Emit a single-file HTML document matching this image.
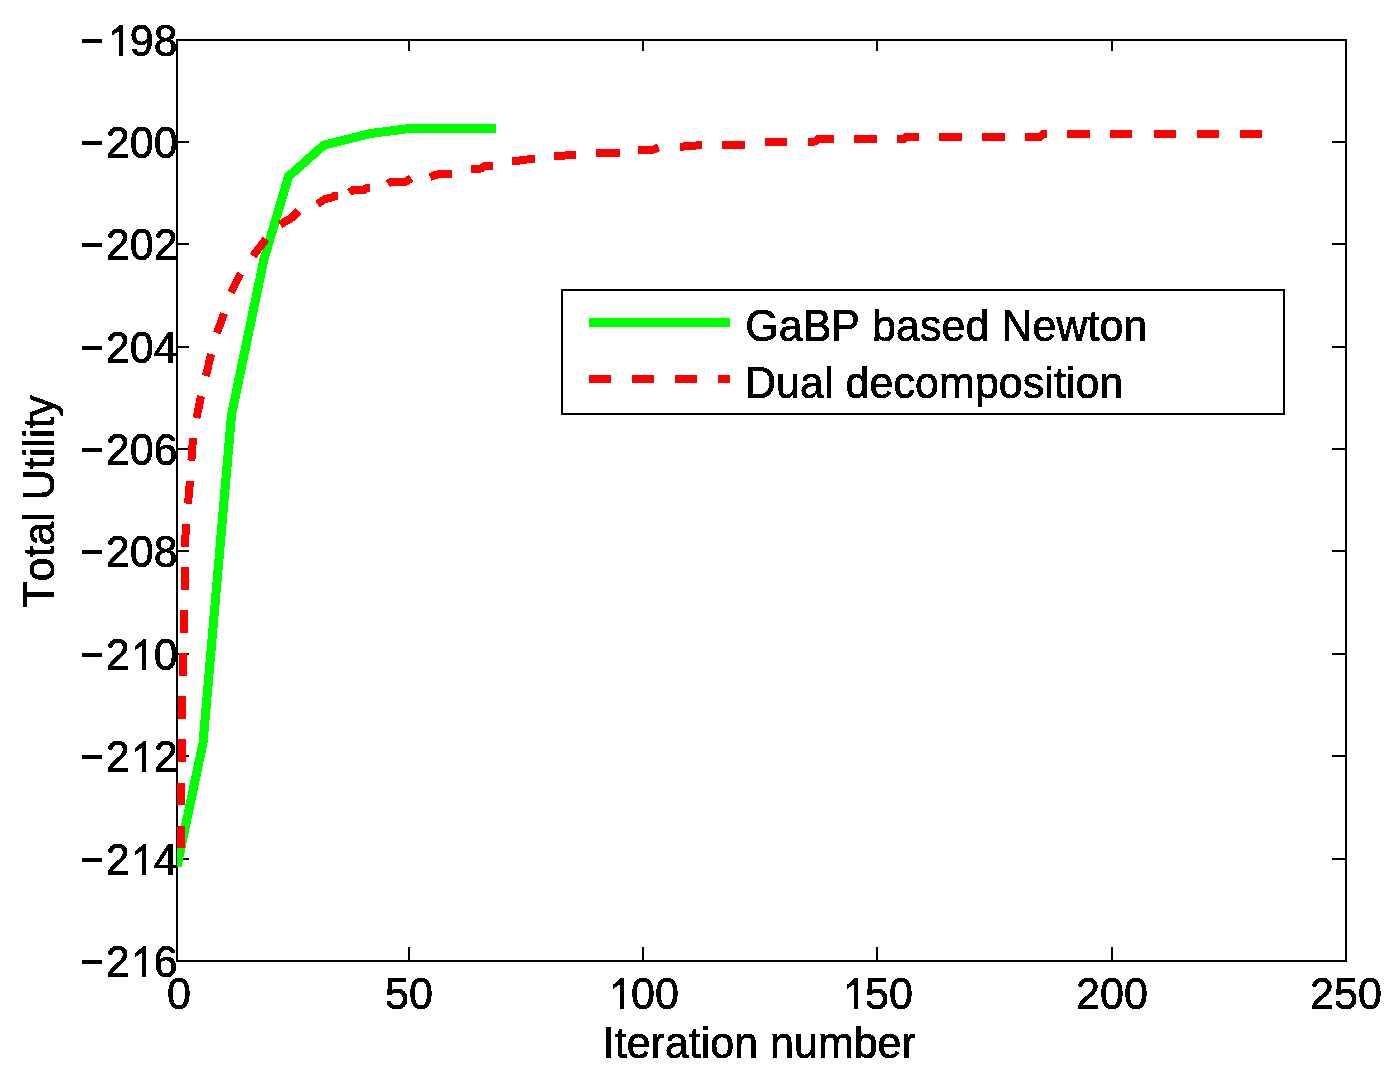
<!DOCTYPE html>
<html><head><meta charset="utf-8"><style>
html,body{margin:0;padding:0;background:#fff;}
svg{display:block;}
polyline,rect,path{shape-rendering:crispEdges;}
text{font-family:"Liberation Sans", sans-serif;font-size:43px;fill:#000;stroke:#000;stroke-width:0.7px;font-kerning:none;}
</style></head><body>
<svg width="1396" height="1079" viewBox="0 0 1396 1079">
<defs><clipPath id="clip"><rect x="177" y="41" width="1168" height="919"/></clipPath><filter id="alias" x="0" y="0" width="100%" height="100%" filterUnits="userSpaceOnUse"><feComponentTransfer><feFuncA type="discrete" tableValues="0 1"/></feComponentTransfer></filter></defs>
<rect width="1396" height="1079" fill="#fff"/>
<rect x="177" y="40" width="1169" height="921" fill="none" stroke="#000" stroke-width="2"/>
<rect x="408" y="947" width="2" height="13" fill="#000"/>
<rect x="408" y="41" width="2" height="10" fill="#000"/>
<rect x="642" y="947" width="2" height="13" fill="#000"/>
<rect x="642" y="41" width="2" height="10" fill="#000"/>
<rect x="876" y="947" width="2" height="13" fill="#000"/>
<rect x="876" y="41" width="2" height="10" fill="#000"/>
<rect x="1111" y="947" width="2" height="13" fill="#000"/>
<rect x="1111" y="41" width="2" height="10" fill="#000"/>
<rect x="178" y="141" width="11" height="2" fill="#000"/>
<rect x="1332" y="141" width="13" height="2" fill="#000"/>
<rect x="178" y="243" width="11" height="2" fill="#000"/>
<rect x="1332" y="243" width="13" height="2" fill="#000"/>
<rect x="178" y="346" width="11" height="2" fill="#000"/>
<rect x="1332" y="346" width="13" height="2" fill="#000"/>
<rect x="178" y="448" width="11" height="2" fill="#000"/>
<rect x="1332" y="448" width="13" height="2" fill="#000"/>
<rect x="178" y="550" width="11" height="2" fill="#000"/>
<rect x="1332" y="550" width="13" height="2" fill="#000"/>
<rect x="178" y="653" width="11" height="2" fill="#000"/>
<rect x="1332" y="653" width="13" height="2" fill="#000"/>
<rect x="178" y="755" width="11" height="2" fill="#000"/>
<rect x="1332" y="755" width="13" height="2" fill="#000"/>
<rect x="178" y="858" width="11" height="2" fill="#000"/>
<rect x="1332" y="858" width="13" height="2" fill="#000"/>
<g clip-path="url(#clip)">
<polyline fill="none" stroke="#00ff00" stroke-width="9" stroke-linejoin="miter" stroke-linecap="butt" points="177,866.5 203,743 231.5,415 264,259 288.5,176.5 323.7,145.2 370,133.6 409,128.5 496,128.5"/>
<polyline fill="none" stroke="#ff0000" stroke-width="8" stroke-linejoin="round" stroke-linecap="butt" points="181,848 181,826"/>
<polyline fill="none" stroke="#ff0000" stroke-width="8" stroke-linejoin="round" stroke-linecap="butt" points="181,805 181,783"/>
<polyline fill="none" stroke="#ff0000" stroke-width="8" stroke-linejoin="round" stroke-linecap="butt" points="181.5,762 181.5,739"/>
<polyline fill="none" stroke="#ff0000" stroke-width="8" stroke-linejoin="round" stroke-linecap="butt" points="182.4,719 182.4,696"/>
<polyline fill="none" stroke="#ff0000" stroke-width="8" stroke-linejoin="round" stroke-linecap="butt" points="183.1,675.6 183.1,653.1"/>
<polyline fill="none" stroke="#ff0000" stroke-width="8" stroke-linejoin="round" stroke-linecap="butt" points="184,632.8 184,610"/>
<polyline fill="none" stroke="#ff0000" stroke-width="8" stroke-linejoin="round" stroke-linecap="butt" points="184.5,589.8 184.5,567.2"/>
<polyline fill="none" stroke="#ff0000" stroke-width="8" stroke-linejoin="round" stroke-linecap="butt" points="185,546.8 186,523.9"/>
<polyline fill="none" stroke="#ff0000" stroke-width="8" stroke-linejoin="round" stroke-linecap="butt" points="188,503.7 190,481.1"/>
<polyline fill="none" stroke="#ff0000" stroke-width="8" stroke-linejoin="round" stroke-linecap="butt" points="191.4,460.7 193,438"/>
<polyline fill="none" stroke="#ff0000" stroke-width="8" stroke-linejoin="round" stroke-linecap="butt" points="196.5,418 201,396"/>
<polyline fill="none" stroke="#ff0000" stroke-width="8" stroke-linejoin="round" stroke-linecap="butt" points="206,376 211,354"/>
<polyline fill="none" stroke="#ff0000" stroke-width="8" stroke-linejoin="round" stroke-linecap="butt" points="217,333 224,313.5"/>
<polyline fill="none" stroke="#ff0000" stroke-width="8" stroke-linejoin="round" stroke-linecap="butt" points="231,292.5 240.5,273.5"/>
<polyline fill="none" stroke="#ff0000" stroke-width="8" stroke-linejoin="round" stroke-linecap="butt" points="253,256 266,239"/>
<polyline fill="none" stroke="#ff0000" stroke-width="8" stroke-linejoin="round" stroke-linecap="butt" points="280,224.5 291.5,218 298.5,211"/>
<polyline fill="none" stroke="#ff0000" stroke-width="8" stroke-linejoin="round" stroke-linecap="butt" points="317.5,204 325,199 332,197.5 334,196 338,196"/>
<polyline fill="none" stroke="#ff0000" stroke-width="8" stroke-linejoin="round" stroke-linecap="butt" points="349.5,192.7 352.5,190.3 364,190.3 366.5,188 370,188"/>
<polyline fill="none" stroke="#ff0000" stroke-width="8" stroke-linejoin="round" stroke-linecap="butt" points="388,184 390,182.3 405,182.3 411,178"/>
<polyline fill="none" stroke="#ff0000" stroke-width="8" stroke-linejoin="round" stroke-linecap="butt" points="430,177 437,174.5 452,174"/>
<polyline fill="none" stroke="#ff0000" stroke-width="8" stroke-linejoin="round" stroke-linecap="butt" points="471,169 481,168.5 485,166 493,166"/>
<polyline fill="none" stroke="#ff0000" stroke-width="8" stroke-linejoin="round" stroke-linecap="butt" points="512,161.5 535,158.5"/>
<polyline fill="none" stroke="#ff0000" stroke-width="8" stroke-linejoin="round" stroke-linecap="butt" points="554,156 576,155"/>
<polyline fill="none" stroke="#ff0000" stroke-width="8" stroke-linejoin="round" stroke-linecap="butt" points="596,153 620,153"/>
<polyline fill="none" stroke="#ff0000" stroke-width="8" stroke-linejoin="round" stroke-linecap="butt" points="638,149.6 653,149.6 658.6,147.5"/>
<polyline fill="none" stroke="#ff0000" stroke-width="8" stroke-linejoin="round" stroke-linecap="butt" points="680,146.8 702,145"/>
<polyline fill="none" stroke="#ff0000" stroke-width="8" stroke-linejoin="round" stroke-linecap="butt" points="722,144.8 745,144.8"/>
<polyline fill="none" stroke="#ff0000" stroke-width="8" stroke-linejoin="round" stroke-linecap="butt" points="765,141.9 787,141.9"/>
<polyline fill="none" stroke="#ff0000" stroke-width="8" stroke-linejoin="round" stroke-linecap="butt" points="808,141.6 815,141.6 818,138.8 834,138.8"/>
<polyline fill="none" stroke="#ff0000" stroke-width="8" stroke-linejoin="round" stroke-linecap="butt" points="854,138.8 877,138.8"/>
<polyline fill="none" stroke="#ff0000" stroke-width="8" stroke-linejoin="round" stroke-linecap="butt" points="897,138.8 904.6,138.8 906,137 918.6,137"/>
<polyline fill="none" stroke="#ff0000" stroke-width="8" stroke-linejoin="round" stroke-linecap="butt" points="939,137 962,137"/>
<polyline fill="none" stroke="#ff0000" stroke-width="8" stroke-linejoin="round" stroke-linecap="butt" points="982,137 1005,137"/>
<polyline fill="none" stroke="#ff0000" stroke-width="8" stroke-linejoin="round" stroke-linecap="butt" points="1025,137 1040,137 1043,134 1047,134"/>
<polyline fill="none" stroke="#ff0000" stroke-width="8" stroke-linejoin="round" stroke-linecap="butt" points="1067,134 1090,134"/>
<polyline fill="none" stroke="#ff0000" stroke-width="8" stroke-linejoin="round" stroke-linecap="butt" points="1110,134 1132,134"/>
<polyline fill="none" stroke="#ff0000" stroke-width="8" stroke-linejoin="round" stroke-linecap="butt" points="1154,134 1176,134"/>
<polyline fill="none" stroke="#ff0000" stroke-width="8" stroke-linejoin="round" stroke-linecap="butt" points="1197,134 1219,134"/>
<polyline fill="none" stroke="#ff0000" stroke-width="8" stroke-linejoin="round" stroke-linecap="butt" points="1240,134 1262,134"/>
</g>
<g filter="url(#alias)">
<rect x="82" y="39" width="20" height="4" fill="#000"/>
<path d="M119.53,25.00 L122.53,25.00 L122.53,56.00 L118.53,56.00 L118.53,31.50 L111.53,36.00 L111.53,32.00 Z" fill="#000"/>
<text transform="translate(0,56) scale(1,1.045)" x="129.76 153.68" y="0">98</text>
<rect x="82" y="141" width="20" height="4" fill="#000"/>
<text transform="translate(0,158) scale(1,1.045)" x="105.83 129.76 153.68" y="0">200</text>
<rect x="82" y="243" width="20" height="4" fill="#000"/>
<text transform="translate(0,260) scale(1,1.045)" x="105.83 129.76 153.68" y="0">202</text>
<rect x="82" y="346" width="20" height="4" fill="#000"/>
<text transform="translate(0,363) scale(1,1.045)" x="105.83 129.76 153.68" y="0">204</text>
<rect x="82" y="448" width="20" height="4" fill="#000"/>
<text transform="translate(0,465) scale(1,1.045)" x="105.83 129.76 153.68" y="0">206</text>
<rect x="82" y="550" width="20" height="4" fill="#000"/>
<text transform="translate(0,567) scale(1,1.045)" x="105.83 129.76 153.68" y="0">208</text>
<rect x="82" y="653" width="20" height="4" fill="#000"/>
<path d="M143.46,639.00 L146.46,639.00 L146.46,670.00 L142.46,670.00 L142.46,645.50 L135.46,650.00 L135.46,646.00 Z" fill="#000"/>
<text transform="translate(0,670) scale(1,1.045)" x="105.83 153.68" y="0">20</text>
<rect x="82" y="755" width="20" height="4" fill="#000"/>
<path d="M143.46,741.00 L146.46,741.00 L146.46,772.00 L142.46,772.00 L142.46,747.50 L135.46,752.00 L135.46,748.00 Z" fill="#000"/>
<text transform="translate(0,772) scale(1,1.045)" x="105.83 153.68" y="0">22</text>
<rect x="82" y="858" width="20" height="4" fill="#000"/>
<path d="M143.46,844.00 L146.46,844.00 L146.46,875.00 L142.46,875.00 L142.46,850.50 L135.46,855.00 L135.46,851.00 Z" fill="#000"/>
<text transform="translate(0,875) scale(1,1.045)" x="105.83 153.68" y="0">24</text>
<rect x="82" y="960" width="20" height="4" fill="#000"/>
<path d="M143.46,946.00 L146.46,946.00 L146.46,977.00 L142.46,977.00 L142.46,952.50 L135.46,957.00 L135.46,953.00 Z" fill="#000"/>
<text transform="translate(0,977) scale(1,1.045)" x="105.83 153.68" y="0">26</text>
<text transform="translate(0,1009) scale(1,1.045)" x="167.04" y="0">0</text>
<text transform="translate(0,1009) scale(1,1.045)" x="385.08 409.00" y="0">50</text>
<path d="M620.82,978.00 L623.82,978.00 L623.82,1009.00 L619.82,1009.00 L619.82,984.50 L612.82,989.00 L612.82,985.00 Z" fill="#000"/>
<text transform="translate(0,1009) scale(1,1.045)" x="631.04 654.96" y="0">00</text>
<path d="M854.82,978.00 L857.82,978.00 L857.82,1009.00 L853.82,1009.00 L853.82,984.50 L846.82,989.00 L846.82,985.00 Z" fill="#000"/>
<text transform="translate(0,1009) scale(1,1.045)" x="865.04 888.96" y="0">50</text>
<text transform="translate(0,1009) scale(1,1.045)" x="1076.12 1100.04 1123.96" y="0">200</text>
<text transform="translate(0,1009) scale(1,1.045)" x="1310.12 1334.04 1357.96" y="0">250</text>
<text transform="translate(602.8,1058.3) scale(1,1.045)">Iteration number</text>
<text transform="translate(54,607.6) rotate(-90) scale(1,1.045)">Total Utility</text>
</g>
<rect x="562" y="290" width="722" height="124" fill="#fff" stroke="#000" stroke-width="2"/>
<rect x="589" y="318" width="141" height="9" fill="#00ff00"/>
<rect x="589" y="375" width="22" height="8" fill="#ff0000"/>
<rect x="632" y="375" width="22" height="8" fill="#ff0000"/>
<rect x="675" y="375" width="22" height="8" fill="#ff0000"/>
<rect x="718" y="375" width="12" height="8" fill="#ff0000"/>
<g filter="url(#alias)">
<text transform="translate(745.2,341) scale(1,1.045)" letter-spacing="0.05">GaBP based Newton</text>
<text transform="translate(745,398) scale(1,1.045)" letter-spacing="0.05">Dual decomposition</text>
</g>
</svg>
</body></html>
